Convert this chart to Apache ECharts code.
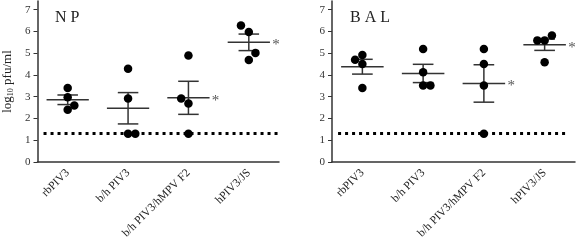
<!DOCTYPE html>
<html>
<head>
<meta charset="utf-8">
<script src="https://cdn.jsdelivr.net/npm/echarts@6/dist/echarts.min.js"></script>
<style>
  html, body { margin: 0; padding: 0; background: #fff; }
  #main { width: 576px; height: 243px; }
</style>
</head>
<body>
<div id="main"></div>
<script>
// 分组名称
var categories = ['rbPIV3', 'b/h PIV3', 'b/h PIV3/hMPV F2', 'hPIV3/JS'];
var yTicks = [0, 1, 2, 3, 4, 5, 6, 7];
var detectionLimit = 1.3;

// NP 各组的单个数值 (log10 pfu/ml)
var npValues = [
  [3.40, 2.98, 2.60, 2.40],
  [4.29, 2.92, 1.30, 1.30],
  [4.90, 2.92, 2.69, 1.30],
  [6.27, 5.98, 5.01, 4.69]
];
// 点的水平偏移 (组宽的比例)
var npJitter = [
  [0, 0, 0.11, 0],
  [0, 0, 0, 0.12],
  [0, -0.12, 0, 0],
  [-0.13, 0, 0.11, 0]
];
var npMean = [2.86, 2.47, 2.95, 5.50];
var npSem = [0.22, 0.72, 0.76, 0.38];
var npStar = [0, 0, 1, 1];

// BAL
var balValues = [
  [4.70, 4.92, 4.50, 3.40],
  [5.19, 4.12, 3.52, 3.52],
  [5.19, 4.50, 3.52, 1.30],
  [5.59, 5.59, 5.81, 4.59]
];
var balJitter = [
  [-0.12, 0, 0, 0],
  [0, 0, 0, 0.12],
  [0, 0, 0, 0],
  [-0.12, 0, 0.12, 0]
];
var balMean = [4.38, 4.07, 3.61, 5.39];
var balSem = [0.34, 0.42, 0.86, 0.26];
var balStar = [0, 0, 1, 1];

var serif = 'Liberation Serif';
var axisColor = '#333';

function pointData(values, jitter) {
  var out = [];
  values.forEach(function (group, i) {
    group.forEach(function (v, j) {
      out.push([i + jitter[i][j], v]);
    });
  });
  return out;
}

function statData(mean, sem, star) {
  return mean.map(function (m, i) { return [i, m, sem[i], star[i]]; });
}

// 均值线 + 误差线 + 星号
function renderStat(params, api) {
  var x = api.value(0), m = api.value(1), s = api.value(2), star = api.value(3);
  var c = api.coord([x, m]);
  var top = api.coord([x, m + s]);
  var bot = api.coord([x, m - s]);
  var w = api.size([1, 0])[0];
  var half = w * 0.35, cap = w * 0.17;
  var style = { stroke: axisColor, lineWidth: 1.5 };
  var children = [
    { type: 'line', shape: { x1: c[0] - half, y1: c[1], x2: c[0] + half, y2: c[1] }, style: style },
    { type: 'line', shape: { x1: c[0], y1: top[1], x2: c[0], y2: bot[1] }, style: style },
    { type: 'line', shape: { x1: c[0] - cap, y1: top[1], x2: c[0] + cap, y2: top[1] }, style: style },
    { type: 'line', shape: { x1: c[0] - cap, y1: bot[1], x2: c[0] + cap, y2: bot[1] }, style: style }
  ];
  if (star) {
    children.push({
      type: 'text',
      style: {
        text: '*', x: c[0] + w * 0.45, y: c[1] + 3,
        fill: '#555', font: '15px ' + serif,
        align: 'center', verticalAlign: 'middle'
      }
    });
  }
  return { type: 'group', children: children };
}

var grids = [
  { left: 37, top: 1, width: 242, height: 161 },
  { left: 332, top: 1, width: 243, height: 161 }
];

function catAxis(gi) {
  return {
    type: 'category', gridIndex: gi, data: categories, boundaryGap: true,
    axisLine: { lineStyle: { color: axisColor, width: 1.5 } },
    axisTick: { alignWithLabel: true, length: 4, lineStyle: { color: axisColor } },
    axisLabel: { rotate: 45, fontFamily: serif, fontSize: 11.5, color: '#222', margin: 9 }
  };
}
function valXAxis(gi) {
  return { type: 'value', gridIndex: gi, min: -0.5, max: 3.5, show: false };
}
function yAxis(gi, withName) {
  var ax = {
    type: 'value', gridIndex: gi, min: 0, max: 7.4,
    splitLine: { show: false },
    axisLine: { show: true, onZero: false, lineStyle: { color: axisColor, width: 1.5 } },
    axisTick: { show: true, length: 4, customValues: yTicks, lineStyle: { color: axisColor } },
    axisLabel: { customValues: yTicks, fontFamily: serif, fontSize: 11, color: '#333', margin: 7 }
  };
  if (withName) {
    ax.name = '{a|log}{s|10}{a| pfu/ml}';
    ax.nameLocation = 'middle';
    ax.nameRotate = 90;
    ax.nameGap = 23;
    ax.nameTextStyle = {
      rich: {
        a: { fontFamily: serif, fontSize: 13, color: '#222' },
        s: { fontFamily: serif, fontSize: 8, color: '#222', verticalAlign: 'bottom', padding: [6, 0, 0, 0] }
      }
    };
  }
  return ax;
}

function panelSeries(xIdx, yIdx, values, jitter, mean, sem, star, lineFrom, lineTo) {
  return [
    {
      type: 'scatter', xAxisIndex: xIdx, yAxisIndex: yIdx,
      data: pointData(values, jitter), symbolSize: 8.5,
      itemStyle: { color: '#000', opacity: 1 },
      markLine: {
        silent: true, symbol: 'none', label: { show: false },
        lineStyle: { color: '#000', type: [3, 4], width: 3 },
        data: [[{ coord: [lineFrom, detectionLimit] }, { coord: [lineTo, detectionLimit] }]]
      },
      z: 3
    },
    {
      type: 'custom', xAxisIndex: xIdx, yAxisIndex: yIdx,
      data: statData(mean, sem, star), renderItem: renderStat, z: 2
    }
  ];
}

var myChart = echarts.init(document.getElementById('main'), null, { renderer: 'canvas' });
var option = {
  animation: false,
  backgroundColor: '#fff',
  grid: grids,
  title: [
    { text: 'N P', left: 50, top: 5, textStyle: { fontFamily: serif, fontSize: 16, fontWeight: 'normal', color: '#222' } },
    { text: 'B A L', left: 345, top: 5, textStyle: { fontFamily: serif, fontSize: 16, fontWeight: 'normal', color: '#222' } }
  ],
  xAxis: [catAxis(0), catAxis(1), valXAxis(0), valXAxis(1)],
  yAxis: [yAxis(0, true), yAxis(1, false)],
  series: []
    .concat(panelSeries(2, 0, npValues, npJitter, npMean, npSem, npStar, -0.4, 3.48))
    .concat(panelSeries(3, 1, balValues, balJitter, balMean, balSem, balStar, -0.4, 3.38))
};
myChart.setOption(option);
</script>
</body>
</html>
